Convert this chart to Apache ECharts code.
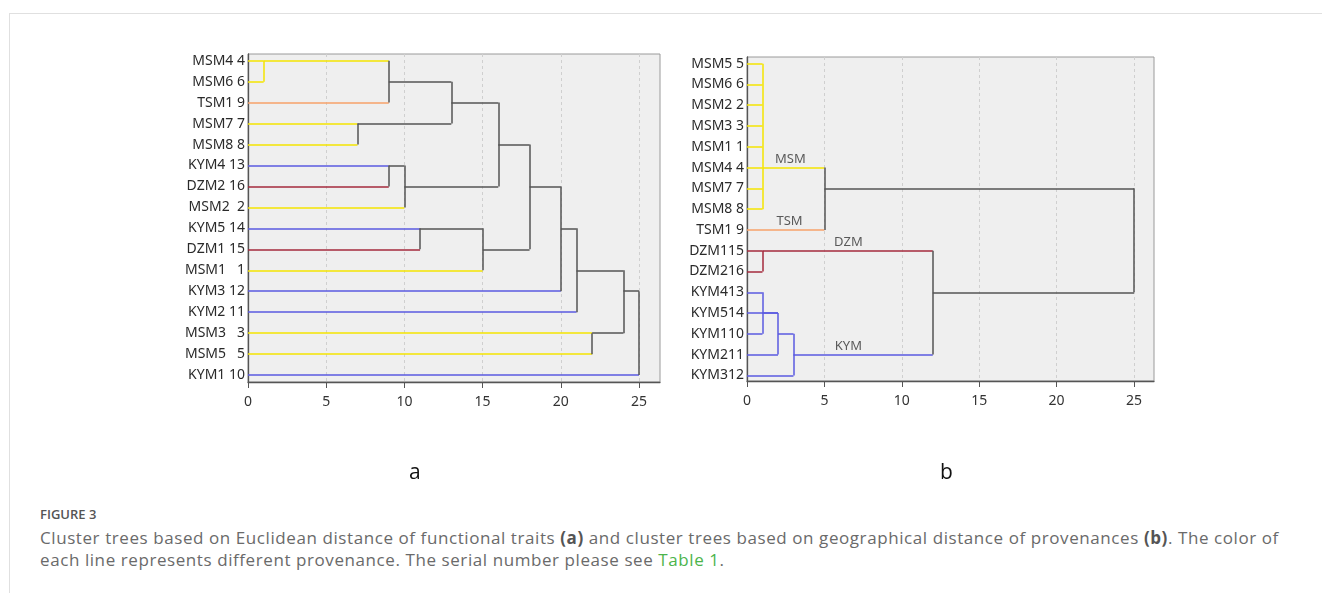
<!DOCTYPE html>
<html>
<head>
<meta charset="utf-8">
<title>Figure 3</title>
<script src="https://cdn.jsdelivr.net/npm/echarts@6/dist/echarts.min.js"></script>
<style>
  html, body { margin: 0; padding: 0; background: #fff; }
  body { width: 1322px; height: 593px; position: relative; overflow: hidden; font-family: "Open Sans", Lato, sans-serif; }
  #frame { position: absolute; left: 9px; top: 13px; right: 0; bottom: 0; border-left: 1.5px solid #e0e0e0; border-top: 1.5px solid #e0e0e0; }
  #main { position: absolute; left: 0; top: 0; width: 1322px; height: 500px; }
  #figno { position: absolute; left: 40px; top: 505px; font-size: 13px; line-height: 18px; font-weight: 600; color: #555; }
  #caption { position: absolute; left: 40px; top: 527px; font-size: 17px; letter-spacing: 0.58px; line-height: 22px; color: #6a6a6a; white-space: nowrap; }
  #caption b { color: #555; }
  #caption .lnk { color: #4cb44c; }
</style>
</head>
<body>
<div id="frame"></div>
<div id="main"></div>
<div id="figno">FIGURE 3</div>
<div id="caption">Cluster trees based on Euclidean distance of functional traits <b>(a)</b> and cluster trees based on geographical distance of provenances <b>(b)</b>. The color of<br>each line represents different provenance. The serial number please see <span class="lnk">Table 1</span>.</div>

<script>
// ---- data: tree (a), functional traits ----
var leftLabels = ['MSM4 4', 'MSM6 6', 'TSM1 9', 'MSM7 7', 'MSM8 8', 'KYM4 13', 'DZM2 16', 'MSM2  2',
                  'KYM5 14', 'DZM1 15', 'MSM1   1', 'KYM3 12', 'KYM2 11', 'MSM3   3', 'MSM5   5', 'KYM1 10'];
var leftGroups = ['MSM', 'MSM', 'TSM', 'MSM', 'MSM', 'KYM', 'DZM', 'MSM',
                  'KYM', 'DZM', 'MSM', 'KYM', 'KYM', 'MSM', 'MSM', 'KYM'];
// [children (leaf rows 0-15, merged nodes 16+), distance, row of node, group or null]
var leftMerges = [
  [[0, 1], 1, 0, 'MSM'],
  [[16, 2], 9, 1, null],
  [[3, 4], 7, 3, null],
  [[17, 18], 13, 2, null],
  [[5, 6], 9, 5, null],
  [[20, 7], 10, 6, null],
  [[19, 21], 16, 4, null],
  [[8, 9], 11, 8, null],
  [[23, 10], 15, 9, null],
  [[22, 24], 18, 6, null],
  [[25, 11], 20, 8, null],
  [[26, 12], 21, 10, null],
  [[13, 14], 22, 13, null],
  [[27, 28], 24, 11, null],
  [[29, 15], 25, 13, null]
];

// ---- data: tree (b), geographical distance ----
var rightLabels = ['MSM5 5', 'MSM6 6', 'MSM2 2', 'MSM3 3', 'MSM1 1', 'MSM4 4', 'MSM7 7', 'MSM8 8',
                   'TSM1 9', 'DZM115', 'DZM216', 'KYM413', 'KYM514', 'KYM110', 'KYM211', 'KYM312'];
var rightGroups = ['MSM', 'MSM', 'MSM', 'MSM', 'MSM', 'MSM', 'MSM', 'MSM',
                   'TSM', 'DZM', 'DZM', 'KYM', 'KYM', 'KYM', 'KYM', 'KYM'];
var rightMerges = [
  [[0, 1, 2, 3, 4, 5, 6, 7], 1, 5, 'MSM'],
  [[16, 8], 5, 6, null],
  [[9, 10], 1, 9, 'DZM'],
  [[11, 13], 1, 12, 'KYM'],
  [[19, 12, 14], 2, 13, 'KYM'],
  [[20, 15], 3, 14, 'KYM'],
  [[18, 21], 12, 11, null],
  [[17, 22], 25, 8, null]
];
var groupNames = ['MSM', 'TSM', 'DZM', 'KYM'];
var groupLabelX = [2.8, 2.75, 6.55, 6.55];
var groupLabelRow = [5, 8, 9, 14];

var xTicks = [0, 5, 10, 15, 20, 25];

// ---- styling ----
var groupColor = { MSM: '#f5e500', TSM: '#f7a26a', DZM: '#a52a3c', KYM: '#5a5ae0' };
var mixColor = '#555555';

function buildSegments(groups, merges) {
  var nodes = groups.map(function (g, i) { return { h: 0, row: i, group: g }; });
  var segs = [];
  merges.forEach(function (m) {
    var kids = m[0], h = m[1], row = m[2], group = m[3];
    var rows = kids.map(function (k) { return nodes[k].row; });
    kids.forEach(function (k) {
      var n = nodes[k];
      segs.push({ coords: [[n.h, n.row], [h, n.row]],
                  lineStyle: { color: n.group ? groupColor[n.group] : mixColor } });
    });
    segs.push({ coords: [[h, Math.min.apply(null, rows)], [h, Math.max.apply(null, rows)]],
                lineStyle: { color: group ? groupColor[group] : mixColor } });
    nodes.push({ h: h, row: row, group: group });
  });
  return segs;
}

function rowsOf(labels) { return labels.map(function (_, i) { return i; }); }

function xAxisFor(idx, max) {
  return {
    type: 'value', gridIndex: idx, min: 0, max: max, interval: 5,
    axisLine: { show: true, onZero: false, lineStyle: { color: '#555', width: 1.3 } },
    axisTick: { show: true, length: 6, customValues: xTicks, lineStyle: { color: '#555' } },
    axisLabel: { customValues: xTicks, fontSize: 14, color: '#333', margin: 13, fontFamily: 'Noto Sans' },
    splitLine: { show: true, lineStyle: { color: '#cfcfcf', type: [3, 3] } }
  };
}

function yAxisFor(idx, labels, min, max) {
  return {
    type: 'value', gridIndex: idx, inverse: true, min: min, max: max,
    axisLine: { show: true, onZero: false, lineStyle: { color: '#555', width: 1.3 } },
    axisTick: { show: false },
    splitLine: { show: false },
    axisLabel: {
      customValues: rowsOf(labels),
      formatter: function (v) { return labels[Math.round(v)]; },
      fontSize: 14, color: '#2a2a2a', margin: 3, fontFamily: 'Noto Sans'
    }
  };
}

var chart = echarts.init(document.getElementById('main'), null, { renderer: 'canvas' });
var option = {
  animation: false,
  title: [
    { text: 'a', left: 404, top: 458,
      textStyle: { fontSize: 21, fontWeight: 'normal', color: '#111', fontFamily: 'Open Sans' } },
    { text: 'b', left: 935, top: 458,
      textStyle: { fontSize: 21, fontWeight: 'normal', color: '#111', fontFamily: 'Open Sans' } }
  ],
  grid: [
    { left: 248, top: 54, width: 412, height: 328, show: true,
      backgroundColor: '#efefef', borderColor: '#9a9a9a', borderWidth: 1 },
    { left: 747, top: 57, width: 407, height: 324, show: true,
      backgroundColor: '#efefef', borderColor: '#9a9a9a', borderWidth: 1 }
  ],
  xAxis: [xAxisFor(0, 26.34), xAxisFor(1, 26.29)],
  yAxis: [yAxisFor(0, leftLabels, -0.32, 15.33), yAxisFor(1, rightLabels, -0.32, 15.27)],
  series: [
    { type: 'lines', coordinateSystem: 'cartesian2d', xAxisIndex: 0, yAxisIndex: 0,
      lineStyle: { width: 1.5, opacity: 1 }, data: buildSegments(leftGroups, leftMerges) },
    { type: 'lines', coordinateSystem: 'cartesian2d', xAxisIndex: 1, yAxisIndex: 1,
      lineStyle: { width: 1.5, opacity: 1 }, data: buildSegments(rightGroups, rightMerges) },
    { type: 'scatter', xAxisIndex: 1, yAxisIndex: 1, symbolSize: 0, silent: true,
      data: groupNames.map(function (g, i) { return [groupLabelX[i], groupLabelRow[i]]; }),
      label: { show: true, position: 'top', distance: 2, color: '#333', fontSize: 13, fontFamily: 'Noto Sans',
               formatter: function (p) { return groupNames[p.dataIndex]; } } }
  ]
};
chart.setOption(option);
</script>
</body>
</html>
